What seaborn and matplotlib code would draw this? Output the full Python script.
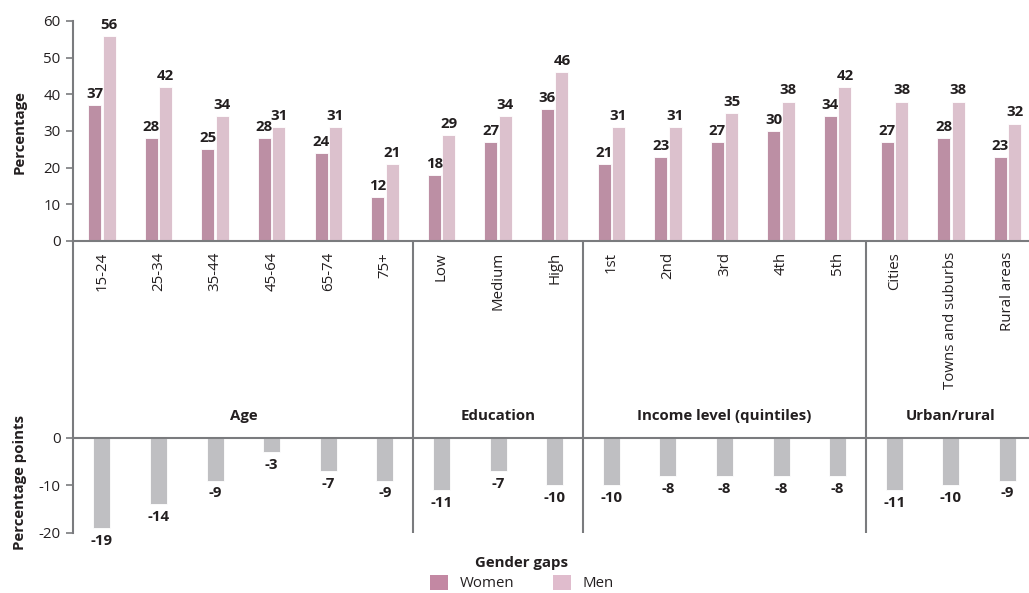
import matplotlib
matplotlib.use("Agg")
import matplotlib.pyplot as plt
from matplotlib.patches import Patch
import seaborn as sns
import pandas as pd

# Categories and values
categories = ["15-24", "25-34", "35-44", "45-64", "65-74", "75+",
              "Low", "Medium", "High",
              "1st", "2nd", "3rd", "4th", "5th",
              "Cities", "Towns and suburbs", "Rural areas"]
women = [37, 28, 25, 28, 24, 12, 18, 27, 36, 21, 23, 27, 30, 34, 27, 28, 23]
men = [56, 42, 34, 31, 31, 21, 29, 34, 46, 31, 31, 35, 38, 42, 38, 38, 32]
gaps = [-19, -14, -9, -3, -7, -9, -11, -7, -10, -10, -8, -8, -8, -8, -11, -10, -9]

group_names = ["Age", "Education", "Income level (quintiles)", "Urban/rural"]
group_sizes = [6, 3, 5, 3]

series_names = ["Women", "Men"]
top_ticks = [0, 10, 20, 30, 40, 50, 60]
bottom_ticks = [0, -10, -20]

# Styling
sns.set_theme(style="white")
plt.rcParams["font.family"] = ["Open Sans", "DejaVu Sans"]
TEXT = "#231f20"
AXIS = "#7a7b7e"
C_WOMEN = "#c388a3"
C_MEN = "#e0bccd"
C_GAP = "#bebec2"
FS = 10.8

df = pd.DataFrame({
    "category": categories * 2,
    "value": women + men,
    "sex": [series_names[0]] * len(categories) + [series_names[1]] * len(categories),
})
df_gap = pd.DataFrame({"category": categories, "gap": gaps})

W, H = 1029, 593
fig = plt.figure(figsize=(W / 100, H / 100), dpi=100)
left = 73 / W
ax1 = fig.add_axes([left, 1 - 241 / H, 1 - left, 220 / H])
ax2 = fig.add_axes([left, 1 - 533 / H, 1 - left, 292 / H])

xlim = (-0.51, 16.38)

# Top panel: share by sex
sns.barplot(data=df, x="category", y="value", hue="sex", order=categories,
            hue_order=series_names, palette=[C_WOMEN, C_MEN],
            width=0.51, gap=0.1, edgecolor="white", linewidth=0.6,
            legend=False, ax=ax1)
for cont, vals in zip(ax1.containers, [women, men]):
    ax1.bar_label(cont, labels=[str(v) for v in vals], padding=3,
                  fontsize=FS, fontweight="bold", color=TEXT)
ax1.set_xlim(*xlim)
ax1.set_ylim(0, 60)
ax1.set_yticks(top_ticks)
ax1.set_yticklabels([str(t) for t in top_ticks])
ax1.set_xlabel("")
ax1.set_ylabel("")
ax1.tick_params(axis="x", length=0, pad=8, labelrotation=90, labelsize=FS, labelcolor=TEXT)
ax1.tick_params(axis="y", length=5, width=1.2, color=AXIS, pad=4, labelsize=FS,
                labelcolor=TEXT, left=True)
for s in ["top", "right"]:
    ax1.spines[s].set_visible(False)
for s in ["left", "bottom"]:
    ax1.spines[s].set_color(AXIS)
    ax1.spines[s].set_linewidth(1.5)
ax1.set_facecolor("none")

# Bottom panel: gender gaps
sns.barplot(data=df_gap, x="category", y="gap", order=categories, color=C_GAP,
            width=0.3, edgecolor="white", linewidth=0.6, ax=ax2)
ax2.bar_label(ax2.containers[0], labels=[str(v) for v in gaps], padding=4,
              fontsize=FS, fontweight="bold", color=TEXT)
ax2.set_xlim(*xlim)
ax2.set_ylim(-20, 41.47)
ax2.set_yticks(bottom_ticks)
ax2.set_yticklabels([str(t) for t in bottom_ticks])
ax2.set_xticks([])
ax2.set_xlabel("")
ax2.set_ylabel("")
ax2.tick_params(axis="y", length=5, width=1.2, color=AXIS, pad=4, labelsize=FS,
                labelcolor=TEXT, left=True)
for s in ["top", "right", "bottom"]:
    ax2.spines[s].set_visible(False)
ax2.spines["left"].set_color(AXIS)
ax2.spines["left"].set_linewidth(1.5)
ax2.axhline(0, color=AXIS, lw=1.5, zorder=3)
ax2.set_facecolor("none")

# Group separators and group titles
start = 0
for i, (name, n) in enumerate(zip(group_names, group_sizes)):
    center = start + (n - 1) / 2
    ax2.text(center, 4.6, name, ha="center", va="center", fontsize=FS,
             fontweight="bold", color=TEXT)
    if i < len(group_names) - 1:
        ax2.vlines(start + n - 0.5, -20, 41.47, color=AXIS, lw=1.5, zorder=3)
    start += n

# Axis titles
fig.text(20 / W, 1 - 132 / H, "Percentage", rotation=90, ha="center", va="center",
         fontsize=FS, fontweight="bold", color=TEXT)
fig.text(20 / W, 1 - 482 / H, "Percentage points", rotation=90, ha="center",
         va="center", fontsize=FS, fontweight="bold", color=TEXT)

# Legend
handles = [Patch(facecolor=C_WOMEN, edgecolor="none"),
           Patch(facecolor=C_MEN, edgecolor="none")]
leg = fig.legend(handles, series_names, loc="lower center", bbox_to_anchor=(522 / W, -0.010),
                 ncol=2, frameon=False, title="Gender gaps", fontsize=FS,
                 title_fontproperties={"weight": "bold", "size": FS},
                 handlelength=1.2, handleheight=1.2, columnspacing=2.6,
                 handletextpad=0.75, borderaxespad=0.1, labelspacing=0.3)
for t in leg.get_texts():
    t.set_color(TEXT)
leg.get_title().set_color(TEXT)

fig.savefig("out.png", dpi=100)
